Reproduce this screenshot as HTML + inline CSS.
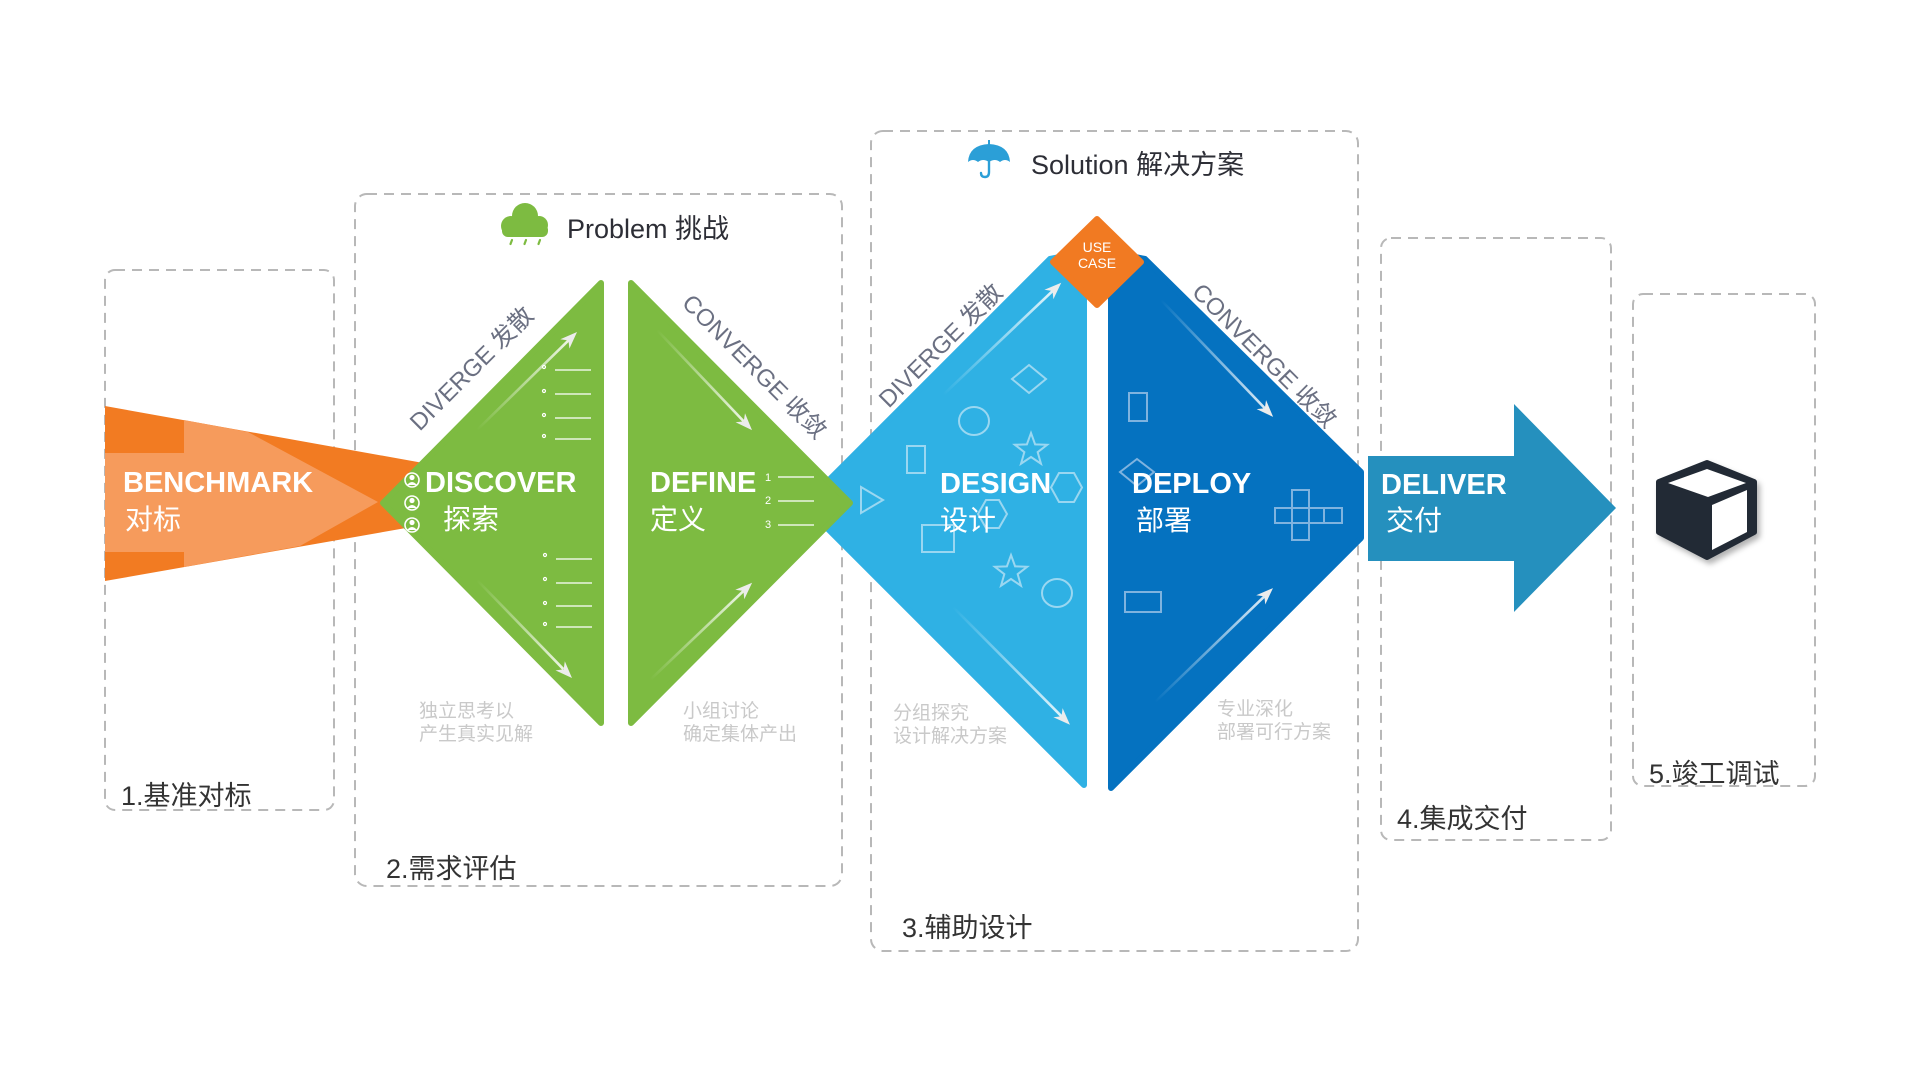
<!DOCTYPE html>
<html>
<head>
<meta charset="utf-8">
<style>
  html,body{margin:0;padding:0;background:#fff;}
  body{width:1920px;height:1080px;overflow:hidden;}
  svg{display:block;}
  text{font-family:"Liberation Sans","Noto Sans CJK SC",sans-serif;}
</style>
</head>
<body>
<svg width="1920" height="1080" viewBox="0 0 1920 1080" xmlns="http://www.w3.org/2000/svg">
  <defs>
    <linearGradient id="fade" x1="0" y1="0" x2="1" y2="0">
      <stop offset="0" stop-color="#ffffff" stop-opacity="0"/>
      <stop offset="1" stop-color="#ffffff" stop-opacity="0.85"/>
    </linearGradient>
    <filter id="sh" x="-30%" y="-30%" width="160%" height="160%">
      <feDropShadow dx="3" dy="4" stdDeviation="3" flood-color="#000" flood-opacity="0.3"/>
    </filter>
  </defs>

  <rect width="1920" height="1080" fill="#fff"/>

  <!-- dashed boxes -->
  <g fill="none" stroke="#b8b8b8" stroke-width="2" stroke-dasharray="10 7">
    <rect x="105" y="270" width="229" height="540" rx="10"/>
    <rect x="355" y="194" width="487" height="692" rx="12"/>
    <rect x="871" y="131" width="487" height="820" rx="12"/>
    <rect x="1381" y="238" width="230" height="602" rx="10"/>
    <rect x="1633" y="294" width="182" height="492" rx="10"/>
  </g>

  <!-- box labels -->
  <g font-size="27" fill="#333">
    <text x="121" y="805">1.基准对标</text>
    <text x="386" y="878">2.需求评估</text>
    <text x="902" y="937">3.辅助设计</text>
    <text x="1397" y="828">4.集成交付</text>
    <text x="1649" y="783">5.竣工调试</text>
  </g>

  <!-- headers -->
  <g fill="#7dbb41">
    <circle cx="525" cy="216" r="13"/>
    <circle cx="511" cy="226" r="10"/>
    <circle cx="539" cy="225" r="9"/>
    <rect x="502" y="224" width="46" height="13" rx="6"/>
  </g>
  <g stroke="#7dbb41" stroke-width="2.2" stroke-linecap="round">
    <line x1="512" y1="240" x2="510.5" y2="244"/>
    <line x1="526" y1="240" x2="524.5" y2="244"/>
    <line x1="540" y1="240" x2="538.5" y2="244"/>
  </g>
  <text x="567" y="238" font-size="27" fill="#2d2e36">Problem 挑战</text>

  <g fill="#2b9fd7">
    <path d="M968,162 Q969,145 989,144 Q1009,145 1010,162 Q1005,158 1000,162 Q995,158 989,162 Q983,158 978,162 Q973,158 968,162 Z"/>
    <rect x="988" y="140" width="2" height="5"/>
  </g>
  <path d="M989,160 L989,172 Q989,177 985,177 Q981,177 981,173" fill="none" stroke="#2b9fd7" stroke-width="2.4" stroke-linecap="round"/>
  <text x="1031" y="174" font-size="27" fill="#2d2e36">Solution 解决方案</text>

  <!-- orange benchmark -->
  <polygon points="105,406 440,466 440,522 105,581" fill="#f27b22"/>
  <polygon points="105,453 184,453 184,420 248,432 378,502 300,546 184,567 184,552 105,552" fill="#f69b5c"/>

  <!-- blue diamond -->
  <g stroke-width="6" stroke-linejoin="round">
    <polygon points="804,505 1050,259 1084,252 1084,785" fill="#2fb1e4" stroke="#2fb1e4"/>
    <polygon points="1111,252 1145,259 1361,472 1361,538 1111,788" fill="#0572c0" stroke="#0572c0"/>
  </g>

  <!-- green diamond -->
  <g stroke-width="6" stroke-linejoin="round">
    <polygon points="383,503 601,283 601,723" fill="#7dbb41" stroke="#7dbb41"/>
    <polygon points="631,283 631,723 850,503" fill="#7dbb41" stroke="#7dbb41"/>
  </g>

  <!-- use case -->
  <polygon points="1097,219 1141,262 1097,305 1053,262" fill="#f17a22" stroke="#f17a22" stroke-width="6" stroke-linejoin="round"/>
  <g font-size="14" fill="#fff" text-anchor="middle">
    <text x="1097" y="252">USE</text>
    <text x="1097" y="268">CASE</text>
  </g>

  <!-- deliver arrow -->
  <polygon points="1368,456 1514,456 1514,404 1616,508 1514,612 1514,561 1368,561" fill="#2590be"/>

  <!-- design shapes -->
  <g fill="none" stroke="#a6dbf2" stroke-width="2" stroke-opacity="0.9">
    <polygon points="1029,365 1046,379 1029,393 1012,379"/>
    <ellipse cx="974" cy="421" rx="15" ry="14"/>
    <polygon transform="translate(1031 450)" points="0,-17 4.11,-5.66 16.17,-5.25 6.66,2.16 10,13.75 0,7 -10,13.75 -6.66,2.16 -16.17,-5.25 -4.11,-5.66"/>
    <rect x="907" y="446" width="18" height="27"/>
    <polygon points="861,487 883,500 861,513"/>
    <polygon points="1051,487.5 1059,473 1074,473 1082,487.5 1074,502 1059,502"/>
    <polygon points="978,514 986,500 999,500 1007,514 999,528 986,528"/>
    <rect x="922" y="525" width="32" height="27"/>
    <polygon transform="translate(1011 572)" points="0,-17 4.11,-5.66 16.17,-5.25 6.66,2.16 10,13.75 0,7 -10,13.75 -6.66,2.16 -16.17,-5.25 -4.11,-5.66"/>
    <ellipse cx="1057" cy="593" rx="15" ry="14"/>
  </g>
  <!-- deploy shapes -->
  <g fill="none" stroke="#7fb3df" stroke-width="2">
    <rect x="1129" y="393" width="18" height="28"/>
    <polygon points="1137,459 1154,472 1137,486 1120,472"/>
    <rect x="1292" y="490" width="17" height="50"/>
    <rect x="1275" y="508" width="67" height="15"/>
    <line x1="1324" y1="508" x2="1324" y2="523"/>
    <rect x="1125" y="592" width="36" height="20"/>
  </g>

  <!-- decorative arrows -->
  <g>
    <g transform="translate(477 430) rotate(-44.4)"><rect x="0" y="-1.3" width="128" height="2.6" fill="url(#fade)"/><path d="M140,0 L123,-6.5 L128,0 L123,6.5 Z" fill="#ececec"/></g>
    <g transform="translate(477 580) rotate(45.9)"><rect x="0" y="-1.3" width="124" height="2.6" fill="url(#fade)"/><path d="M136.5,0 L119.5,-6.5 L124.5,0 L119.5,6.5 Z" fill="#ececec"/></g>
    <g transform="translate(657 330) rotate(46.5)"><rect x="0" y="-1.3" width="126" height="2.6" fill="url(#fade)"/><path d="M138,0 L121,-6.5 L126,0 L121,6.5 Z" fill="#ececec"/></g>
    <g transform="translate(650 680) rotate(-43.6)"><rect x="0" y="-1.3" width="129" height="2.6" fill="url(#fade)"/><path d="M141,0 L124,-6.5 L129,0 L124,6.5 Z" fill="#ececec"/></g>
    <g transform="translate(943 395) rotate(-43.5)"><rect x="0" y="-1.3" width="151" height="2.6" fill="url(#fade)"/><path d="M163,0 L146,-6.5 L151,0 L146,6.5 Z" fill="#ececec"/></g>
    <g transform="translate(953 607) rotate(45.2)"><rect x="0" y="-1.3" width="154" height="2.6" fill="url(#fade)"/><path d="M166,0 L149,-6.5 L154,0 L149,6.5 Z" fill="#ececec"/></g>
    <g transform="translate(1161 300) rotate(46.2)"><rect x="0" y="-1.3" width="150" height="2.6" fill="url(#fade)"/><path d="M162,0 L145,-6.5 L150,0 L145,6.5 Z" fill="#ececec"/></g>
    <g transform="translate(1155 702) rotate(-44)"><rect x="0" y="-1.3" width="152" height="2.6" fill="url(#fade)"/><path d="M164,0 L147,-6.5 L152,0 L147,6.5 Z" fill="#ececec"/></g>
  </g>

  <!-- discover bullets -->
  <g stroke="#ffffff" stroke-width="1.2" fill="none">
    <line x1="555" y1="370" x2="591" y2="370"/>
    <line x1="555" y1="394" x2="591" y2="394"/>
    <line x1="555" y1="418" x2="591" y2="418"/>
    <line x1="555" y1="439" x2="591" y2="439"/>
    <line x1="556" y1="559" x2="592" y2="559"/>
    <line x1="556" y1="583" x2="592" y2="583"/>
    <line x1="556" y1="606" x2="592" y2="606"/>
    <line x1="556" y1="627" x2="592" y2="627"/>
    <circle cx="544" cy="367" r="1.5"/>
    <circle cx="544" cy="391" r="1.5"/>
    <circle cx="544" cy="415" r="1.5"/>
    <circle cx="544" cy="436" r="1.5"/>
    <circle cx="545" cy="555" r="1.5"/>
    <circle cx="545" cy="579" r="1.5"/>
    <circle cx="545" cy="603" r="1.5"/>
    <circle cx="545" cy="624" r="1.5"/>
    <line x1="778" y1="477" x2="814" y2="477"/>
    <line x1="778" y1="501" x2="814" y2="501"/>
    <line x1="778" y1="525" x2="814" y2="525"/>
  </g>
  <g font-size="11" fill="#fff">
    <text x="765" y="481">1</text>
    <text x="765" y="504">2</text>
    <text x="765" y="528">3</text>
  </g>

  <!-- person icons -->
  <g fill="none" stroke="#fff" stroke-width="1.6">
    <circle cx="412" cy="480" r="7"/>
    <circle cx="412" cy="503" r="7"/>
    <circle cx="412" cy="525" r="7"/>
  </g>
  <g fill="#fff">
    <circle cx="412" cy="477.5" r="2.6"/>
    <path d="M407,485 Q412,479 417,485 Z"/>
    <circle cx="412" cy="500.5" r="2.6"/>
    <path d="M407,508 Q412,502 417,508 Z"/>
    <circle cx="412" cy="522.5" r="2.6"/>
    <path d="M407,530 Q412,524 417,530 Z"/>
  </g>

  <!-- main labels -->
  <g fill="#fff">
    <text x="123" y="492" font-size="29" font-weight="bold">BENCHMARK</text>
    <text x="125" y="529" font-size="28">对标</text>
    <text x="425" y="492" font-size="29" font-weight="bold">DISCOVER</text>
    <text x="443" y="529" font-size="28">探索</text>
    <text x="650" y="492" font-size="29" font-weight="bold">DEFINE</text>
    <text x="650" y="529" font-size="28">定义</text>
    <text x="940" y="493" font-size="29" font-weight="bold">DESIGN</text>
    <text x="940" y="530" font-size="28">设计</text>
    <text x="1132" y="493" font-size="29" font-weight="bold">DEPLOY</text>
    <text x="1136" y="530" font-size="28">部署</text>
    <text x="1381" y="494" font-size="29" font-weight="bold">DELIVER</text>
    <text x="1386" y="530" font-size="28">交付</text>
  </g>

  <!-- rotated diverge / converge -->
  <g font-size="24" fill="#6b7082" text-anchor="middle" dominant-baseline="central">
    <text transform="translate(472 369) rotate(-45)">DIVERGE 发散</text>
    <text transform="translate(754 367) rotate(45)">CONVERGE 收敛</text>
    <text transform="translate(941 346) rotate(-45)">DIVERGE 发散</text>
    <text transform="translate(1264 356) rotate(45)">CONVERGE 收敛</text>
  </g>

  <!-- gray notes -->
  <g font-size="19" fill="#c9c9c9">
    <text x="419" y="717">独立思考以</text>
    <text x="419" y="740">产生真实见解</text>
    <text x="683" y="717">小组讨论</text>
    <text x="683" y="740">确定集体产出</text>
    <text x="893" y="719">分组探究</text>
    <text x="893" y="742">设计解决方案</text>
    <text x="1217" y="715">专业深化</text>
    <text x="1217" y="738">部署可行方案</text>
  </g>

  <!-- cube -->
  <g filter="url(#sh)">
    <polygon points="1707,463 1659,482 1659,532 1707,557 1754,532 1754,482" fill="#222b36" stroke="#222b36" stroke-width="6" stroke-linejoin="round"/>
  </g>
  <polygon points="1668,483 1707,469 1746,483 1708,497" fill="#fff"/>
  <polygon points="1712,505 1747,490 1747,532 1712,550" fill="#fff"/>
</svg>
</body>
</html>
